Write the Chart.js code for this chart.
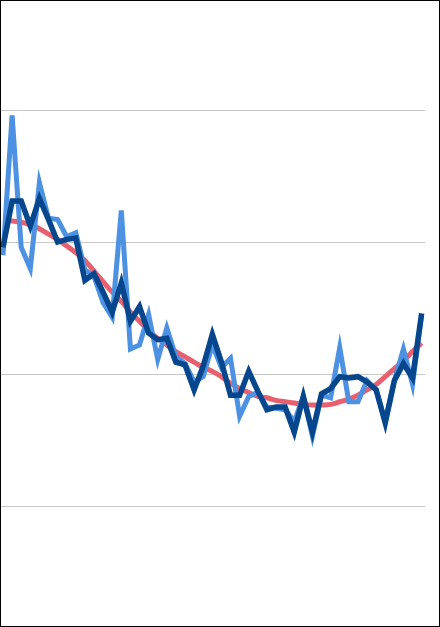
<!DOCTYPE html>
<html>
<head>
<meta charset="utf-8">
<script src="https://cdn.jsdelivr.net/npm/chart.js@4/dist/chart.umd.min.js"></script>
<style>
  html, body { margin: 0; padding: 0; background: #fff; }
  #frame { width: 440px; height: 627px; box-sizing: border-box; border: 1px solid #000; }
  #wrap { position: relative; width: 438px; height: 625px; }
</style>
</head>
<body>
<div id="frame"><div id="wrap"><canvas id="trendChart"></canvas></div></div>
<script>
// 47 samples, values
const steps = Array.from({ length: 47 }, (_, i) => i);

const rawSeries = [
  19.0, 29.6, 19.6, 18.0, 24.5, 21.8, 21.7, 20.4, 20.7, 17.9,
  17.4, 15.4, 14.3, 22.4, 11.9, 12.2, 14.5, 11.1, 13.5, 11.3,
  10.8, 9.4, 9.8, 12.2, 10.5, 11.2, 6.8, 8.3, 8.6, 7.5,
  7.4, 7.3, 6.4, 8.3, 5.3, 8.4, 8.2, 12.0, 7.9, 7.9,
  9.5, 8.8, 6.4, 9.5, 11.9, 9.2, 14.5
];

const smoothSeries = [
  19.6, 23.1, 23.1, 21.2, 23.3, 21.7, 20.0, 20.2, 20.3, 17.1,
  17.6, 16.2, 14.7, 16.9, 14.0, 15.1, 13.1, 12.6, 12.7, 10.9,
  10.7, 8.8, 10.6, 13.0, 10.9, 8.4, 8.4, 10.2, 8.7, 7.3,
  7.5, 7.5, 5.6, 8.3, 5.6, 8.5, 8.9, 9.8, 9.7, 9.8,
  9.4, 8.8, 6.3, 9.5, 10.8, 9.7, 14.6
];

const fitSeries = [
  21.6, 21.6, 21.5, 21.3, 21.0, 20.6, 20.2, 19.7, 19.2, 18.6,
  17.8, 17.0, 16.2, 15.5, 14.7, 14.0, 13.3, 12.7, 12.2, 11.7,
  11.3, 10.9, 10.5, 10.2, 9.8, 9.3, 8.9, 8.6, 8.3, 8.2,
  8.0, 7.9, 7.8, 7.7, 7.65, 7.65, 7.7, 7.9, 8.1, 8.4,
  8.8, 9.2, 9.8, 10.4, 11.0, 11.7, 12.35
];

const toPoints = arr => arr.map((v, i) => ({ x: steps[i], y: v }));

const ctx = document.getElementById('trendChart').getContext('2d');
const trendChart = new Chart(ctx, {
    type: 'line',
    data: {
        datasets: [
            {
                label: 'Smoothed',
                data: toPoints(smoothSeries),
                borderColor: 'rgb(6, 70, 140)',
                borderWidth: 5.5,
                tension: 0,
                pointRadius: 0,
                order: 0
            },
            {
                label: 'Raw',
                data: toPoints(rawSeries),
                borderColor: 'rgb(76, 145, 226)',
                borderWidth: 5,
                tension: 0,
                pointRadius: 0,
                order: 1
            },
            {
                label: 'Fit',
                data: toPoints(fitSeries),
                borderColor: 'rgb(232, 95, 110)',
                borderWidth: 5,
                tension: 0.4,
                pointRadius: 0,
                order: 2
            }
        ]
    },
    options: {
        responsive: true,
        maintainAspectRatio: false,
        animation: false,
        layout: { padding: { left: 0, right: 14, top: 0, bottom: 0 } },
        plugins: { legend: { display: false }, tooltip: { enabled: false } },
        scales: {
            x: {
                type: 'linear',
                display: false,
                min: -0.22,
                max: 46.37
            },
            y: {
                min: -9.09,
                max: 38.26,
                border: { display: false },
                grid: { color: '#c8c8c8', lineWidth: 1, drawTicks: false },
                ticks: { display: false, stepSize: 10, includeBounds: false }
            }
        }
    }
});
</script>
</body>
</html>
